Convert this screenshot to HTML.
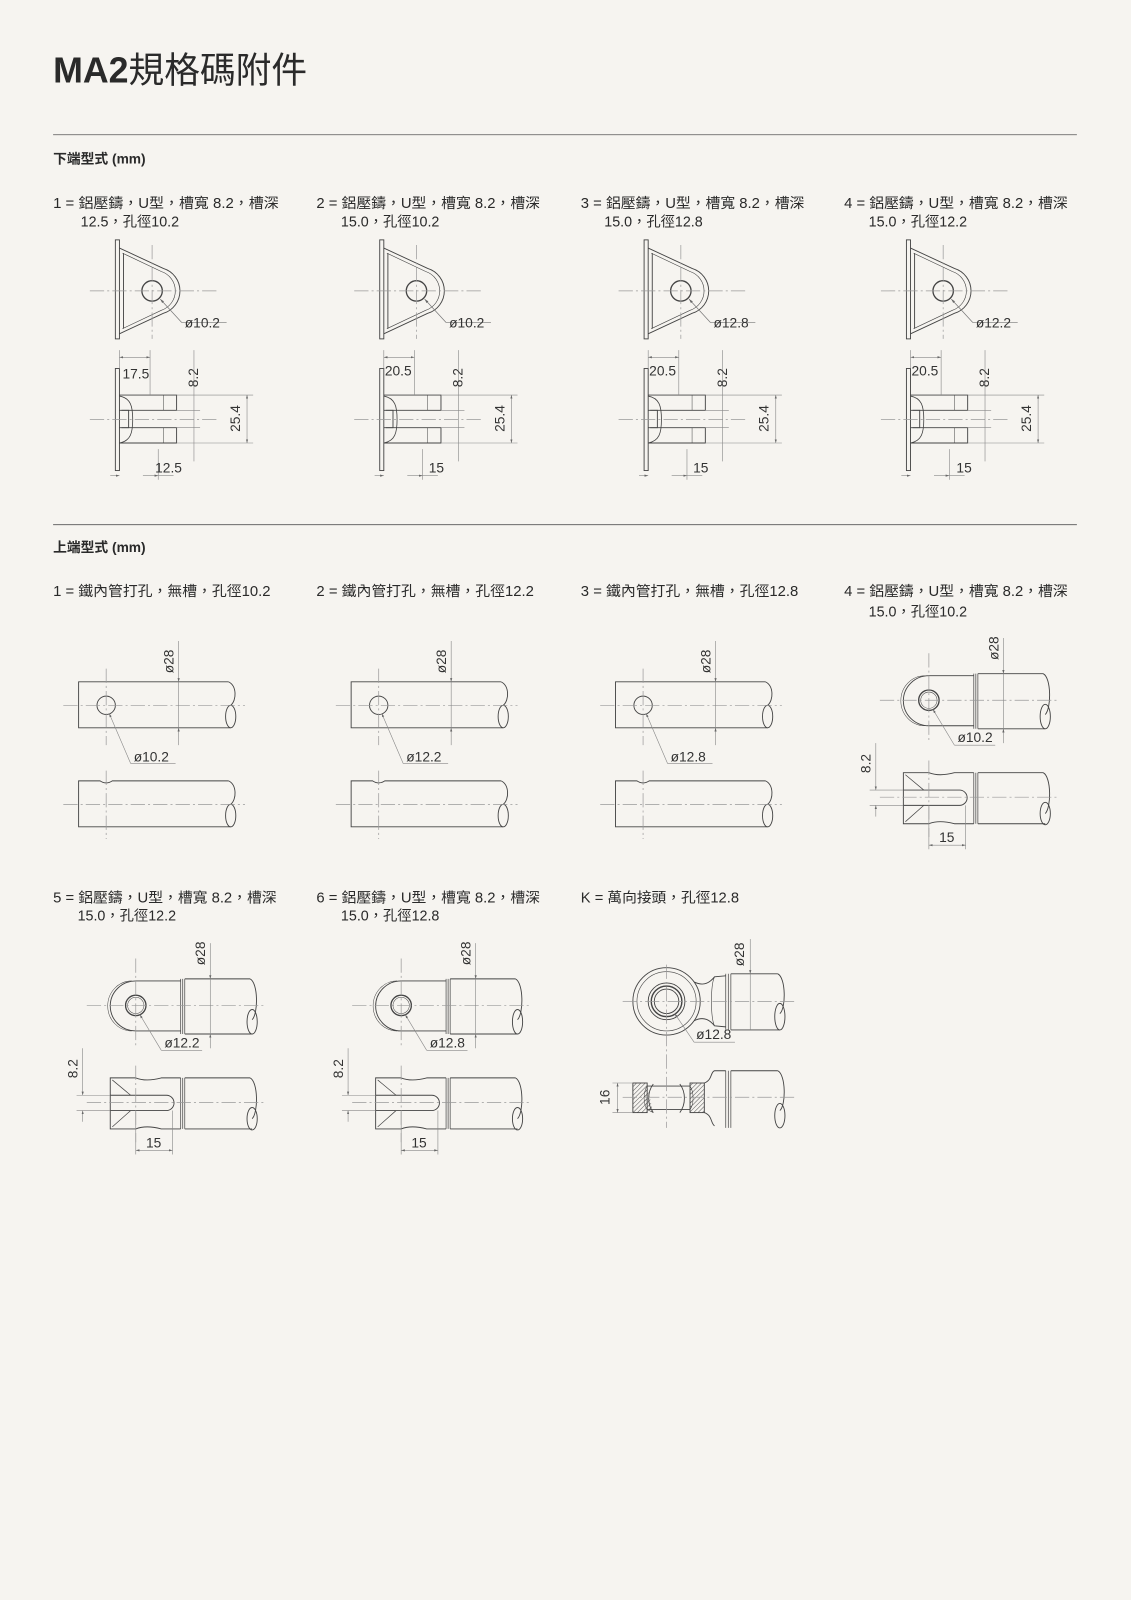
<!DOCTYPE html>
<html><head><meta charset="utf-8"><style>
html,body{margin:0;padding:0;background:#f6f4f0;}
svg{display:block}
text{font-family:"Liberation Sans","Noto Sans CJK TC",sans-serif;fill:#2a2a2a}
.d{font-size:13.5px;fill:#333}
.o{font-size:14px}
</style></head><body>
<svg width="1131" height="1600" viewBox="0 0 1108 1567.5" xmlns="http://www.w3.org/2000/svg">
<defs>
<marker id="a" viewBox="0 0 10 10" refX="10" refY="5" markerWidth="6" markerHeight="6" orient="auto-start-reverse"><path d="M0,2 L10,5 L0,8z" fill="#666"/></marker>
<pattern id="h" width="3" height="3" patternUnits="userSpaceOnUse" patternTransform="rotate(45)"><line x1="0" y1="0" x2="0" y2="3" stroke="#555" stroke-width="1"/></pattern>
<g id="lowTop" fill="none" stroke="#444" stroke-width="0.9">
 <rect x="113" y="235" width="4" height="97" fill="#f6f4f0"/>
 <path d="M117,243 L160,263 A23,23 0 0 1 160,307 L117,327"/>
 <path d="M120,248 L158,266 A20,20 0 0 1 158,304 L120,322" stroke-width="0.6"/>
 <line x1="121" y1="248" x2="121" y2="322"/>
 <circle cx="149" cy="285" r="10" stroke-width="1.3"/>
 <g stroke="#999" stroke-width="0.7" stroke-dasharray="14 3 2 3"><line x1="88" y1="285" x2="212" y2="285"/><line x1="149" y1="240" x2="149" y2="332"/></g>
 <path d="M178,316 L157,293" stroke="#777" stroke-width="0.7" marker-end="url(#a)"/><path d="M178,316 L222,316" stroke="#777" stroke-width="0.7"/>
</g>
<g id="lowSide" fill="none" stroke="#444" stroke-width="0.9">
 <rect x="113" y="361" width="4" height="100" fill="#f6f4f0"/>
 <path d="M117,387 L173,387 L173,402 L117,402 M117,419 L173,419 L173,434 L117,434"/>
 <line x1="160" y1="387" x2="160" y2="402" stroke-width="0.5"/><line x1="160" y1="419" x2="160" y2="434" stroke-width="0.5"/>
 <path d="M117,388 C128,390 130,398 130,411 C130,424 128,432 117,434" stroke-width="0.8"/>
 <path d="M119,402 L126,402 L126,419 L119,419"/>
 <g stroke="#999" stroke-width="0.7" stroke-dasharray="14 3 2 3"><line x1="88" y1="411" x2="212" y2="411"/></g>
 <g stroke="#888" stroke-width="0.6">
  <line x1="117" y1="343" x2="117" y2="361"/><line x1="147" y1="343" x2="147" y2="387"/>
  <line x1="117" y1="350" x2="147" y2="350" marker-start="url(#a)" marker-end="url(#a)"/>
  <line x1="190" y1="343" x2="190" y2="452"/><line x1="173" y1="402" x2="196" y2="402"/><line x1="173" y1="419" x2="196" y2="419"/>
  <line x1="173" y1="387" x2="248" y2="387"/><line x1="173" y1="434" x2="248" y2="434"/>
  <line x1="242" y1="387" x2="242" y2="434" marker-start="url(#a)" marker-end="url(#a)"/>
  <line x1="155" y1="440" x2="155" y2="470"/>
  <line x1="108" y1="466" x2="117" y2="466" marker-end="url(#a)"/><line x1="155" y1="466" x2="170" y2="466"/><line x1="140" y1="466" x2="155" y2="466" marker-end="url(#a)"/>
 </g>
</g>
<g id="rod" fill="none" stroke="#444" stroke-width="0.9">
 <path d="M224,668 L77,668 L77,713 L226,713"/>
 <path d="M224,668 C232,672 232,686 226,691"/><ellipse cx="226" cy="702" rx="5" ry="11"/>
 <circle cx="104" cy="691" r="9"/>
 <path d="M224,765 L110,765 Q104,769 98,765 L77,765 L77,810 L226,810"/>
 <path d="M224,765 C232,769 232,783 226,788"/><ellipse cx="226" cy="799" rx="5" ry="11"/>
 <g stroke="#999" stroke-width="0.7" stroke-dasharray="14 3 2 3"><line x1="62" y1="691" x2="240" y2="691"/><line x1="104" y1="655" x2="104" y2="730"/><line x1="62" y1="788" x2="240" y2="788"/><line x1="104" y1="755" x2="104" y2="822"/></g>
 <g stroke="#888" stroke-width="0.6"><line x1="175" y1="628" x2="175" y2="668" marker-end="url(#a)"/><line x1="175" y1="668" x2="175" y2="713"/><line x1="175" y1="730" x2="175" y2="713" marker-end="url(#a)"/>
 <path d="M128,748 L107,699" marker-end="url(#a)"/><line x1="128" y1="748" x2="172" y2="748"/></g>
</g>
<g id="clevis" fill="none" stroke="#444" stroke-width="0.9">
 <path d="M954,662 L910,662 A25,24.5 0 0 0 910,711 L954,711"/>
 <path d="M906,662 A23,24 0 0 0 906,711" stroke-width="0.5"/>
 <circle cx="910" cy="686" r="10" stroke-width="1.3"/><circle cx="910" cy="686" r="8" stroke-width="0.5"/>
 <path d="M954,660 L954,714 M958,660 L958,714 M956,660 L956,714" stroke-width="0.7"/>
 <path d="M958,660 L1022,660 M958,714 L1024,714 M1022,660 C1030,664 1030,694 1024,700"/><ellipse cx="1024" cy="702" rx="5" ry="12"/>
 <path d="M954,757 L935,757 Q920,761 910,757 L885,757 L885,807 L910,807 Q920,803 935,807 L954,807"/>
 <path d="M885,774 L940,774 A7.5,7.5 0 0 1 940,789 L885,789"/>
 <path d="M887,759 L905,774 M887,805 L905,789" stroke-width="0.7"/>
 <path d="M954,757 L954,807 M958,757 L958,807 M956,757 L956,807" stroke-width="0.7"/>
 <path d="M958,757 L1022,757 M958,807 L1024,807 M1022,757 C1030,761 1030,791 1024,797"/><ellipse cx="1024" cy="797" rx="5" ry="11"/>
 <g stroke="#999" stroke-width="0.7" stroke-dasharray="14 3 2 3"><line x1="862" y1="686" x2="1035" y2="686"/><line x1="910" y1="640" x2="910" y2="725"/><line x1="862" y1="781" x2="1035" y2="781"/><line x1="910" y1="745" x2="910" y2="820"/></g>
 <g stroke="#888" stroke-width="0.6">
  <line x1="983" y1="625" x2="983" y2="660" marker-end="url(#a)"/><line x1="983" y1="660" x2="983" y2="714"/><line x1="983" y1="728" x2="983" y2="714" marker-end="url(#a)"/>
  <path d="M935,730 L914,695" marker-end="url(#a)"/><line x1="935" y1="730" x2="975" y2="730"/>
  <line x1="852" y1="774" x2="885" y2="774"/><line x1="852" y1="789" x2="885" y2="789"/>
  <line x1="858" y1="728" x2="858" y2="774" marker-end="url(#a)"/><line x1="858" y1="800" x2="858" y2="789" marker-end="url(#a)"/>
  <line x1="910" y1="790" x2="910" y2="832"/><line x1="946" y1="789" x2="946" y2="832"/>
  <line x1="910" y1="828" x2="946" y2="828" marker-start="url(#a)" marker-end="url(#a)"/>
 </g>
</g>
</defs>

<text x="52" y="81" style="font-size:35px;font-weight:bold">MA2<tspan style="font-weight:normal">規格碼附件</tspan></text>
<line x1="52" y1="132" x2="1055" y2="132" stroke="#555" stroke-width="0.8"/>
<text x="52" y="160" style="font-size:13.5px;font-weight:bold">下端型式 (mm)</text>

<text class="o" x="52" y="204" textLength="221" lengthAdjust="spacingAndGlyphs">1 =  鋁壓鑄，U型，槽寬 8.2，槽深</text>
<text class="o" x="79" y="222">12.5，孔徑10.2</text>
<text class="o" x="310" y="204" textLength="219" lengthAdjust="spacingAndGlyphs">2 = 鋁壓鑄，U型，槽寬 8.2，槽深</text>
<text class="o" x="334" y="222">15.0，孔徑10.2</text>
<text class="o" x="569" y="204" textLength="219" lengthAdjust="spacingAndGlyphs">3 = 鋁壓鑄，U型，槽寬 8.2，槽深</text>
<text class="o" x="592" y="222">15.0，孔徑12.8</text>
<text class="o" x="827" y="204" textLength="219" lengthAdjust="spacingAndGlyphs">4 = 鋁壓鑄，U型，槽寬 8.2，槽深</text>
<text class="o" x="851" y="222">15.0，孔徑12.2</text>

<use href="#lowTop"/><use href="#lowSide"/>
<use href="#lowTop" transform="translate(259,0)"/><use href="#lowSide" transform="translate(259,0)"/>
<use href="#lowTop" transform="translate(518,0)"/><use href="#lowSide" transform="translate(518,0)"/>
<use href="#lowTop" transform="translate(775,0)"/><use href="#lowSide" transform="translate(775,0)"/>
<g class="d">
<text class="d" x="181" y="321">ø10.2</text><text class="d" x="440" y="321">ø10.2</text><text class="d" x="699" y="321">ø12.8</text><text class="d" x="956" y="321">ø12.2</text>
<text class="d" x="120" y="371">17.5</text><text class="d" x="377" y="368">20.5</text><text class="d" x="636" y="368">20.5</text><text class="d" x="893" y="368">20.5</text>
<text class="d" x="152" y="463">12.5</text><text class="d" x="420" y="463">15</text><text class="d" x="679" y="463">15</text><text class="d" x="937" y="463">15</text>
<text class="d" text-anchor="middle" transform="translate(194,370) rotate(-90)">8.2</text>
<text class="d" text-anchor="middle" transform="translate(453,370) rotate(-90)">8.2</text>
<text class="d" text-anchor="middle" transform="translate(712,370) rotate(-90)">8.2</text>
<text class="d" text-anchor="middle" transform="translate(969,370) rotate(-90)">8.2</text>
<text class="d" text-anchor="middle" transform="translate(235,410) rotate(-90)">25.4</text>
<text class="d" text-anchor="middle" transform="translate(494,410) rotate(-90)">25.4</text>
<text class="d" text-anchor="middle" transform="translate(753,410) rotate(-90)">25.4</text>
<text class="d" text-anchor="middle" transform="translate(1010,410) rotate(-90)">25.4</text>
</g>

<line x1="52" y1="514" x2="1055" y2="514" stroke="#555" stroke-width="0.8"/>
<text x="52" y="541" style="font-size:13.5px;font-weight:bold">上端型式 (mm)</text>
<text class="o" x="52" y="584" textLength="213" lengthAdjust="spacingAndGlyphs">1 = 鐵內管打孔，無槽，孔徑10.2</text>
<text class="o" x="310" y="584" textLength="213" lengthAdjust="spacingAndGlyphs">2 = 鐵內管打孔，無槽，孔徑12.2</text>
<text class="o" x="569" y="584" textLength="213" lengthAdjust="spacingAndGlyphs">3 = 鐵內管打孔，無槽，孔徑12.8</text>
<text class="o" x="827" y="584" textLength="219" lengthAdjust="spacingAndGlyphs">4 = 鋁壓鑄，U型，槽寬 8.2，槽深</text>
<text class="o" x="851" y="604">15.0，孔徑10.2</text>

<use href="#rod"/><use href="#rod" transform="translate(267,0)"/><use href="#rod" transform="translate(526,0)"/>
<use href="#clevis"/>
<text class="d" text-anchor="middle" transform="translate(170,648) rotate(-90)">ø28</text>
<text class="d" text-anchor="middle" transform="translate(437,648) rotate(-90)">ø28</text>
<text class="d" text-anchor="middle" transform="translate(696,648) rotate(-90)">ø28</text>
<text class="d" text-anchor="middle" transform="translate(978,635) rotate(-90)">ø28</text>
<text class="d" x="131" y="746">ø10.2</text><text class="d" x="398" y="746">ø12.2</text><text class="d" x="657" y="746">ø12.8</text>
<text class="d" x="938" y="727">ø10.2</text>
<text class="d" text-anchor="middle" transform="translate(853,748) rotate(-90)">8.2</text>
<text class="d" x="920" y="825">15</text>

<text class="o" x="52" y="884" textLength="219" lengthAdjust="spacingAndGlyphs">5 = 鋁壓鑄，U型，槽寬 8.2，槽深</text>
<text class="o" x="76" y="902">15.0，孔徑12.2</text>
<text class="o" x="310" y="884" textLength="219" lengthAdjust="spacingAndGlyphs">6 = 鋁壓鑄，U型，槽寬 8.2，槽深</text>
<text class="o" x="334" y="902">15.0，孔徑12.8</text>
<text class="o" x="569" y="884" textLength="155" lengthAdjust="spacingAndGlyphs">K = 萬向接頭，孔徑12.8</text>

<use href="#clevis" transform="translate(-777,299)"/>
<use href="#clevis" transform="translate(-517,299)"/>
<text class="d" text-anchor="middle" transform="translate(201,934) rotate(-90)">ø28</text>
<text class="d" text-anchor="middle" transform="translate(461,934) rotate(-90)">ø28</text>
<text class="d" x="161" y="1026">ø12.2</text><text class="d" x="421" y="1026">ø12.8</text>
<text class="d" text-anchor="middle" transform="translate(76,1047) rotate(-90)">8.2</text>
<text class="d" text-anchor="middle" transform="translate(336,1047) rotate(-90)">8.2</text>
<text class="d" x="143" y="1124">15</text><text class="d" x="403" y="1124">15</text>

<!-- K eye -->
<g fill="none" stroke="#444" stroke-width="0.9">
 <circle cx="653" cy="981" r="33"/><circle cx="653" cy="981" r="29" stroke-width="0.6"/>
 <circle cx="653" cy="981" r="18"/><circle cx="653" cy="981" r="15" stroke-width="1.4"/><circle cx="653" cy="981" r="12"/>
 <path d="M680,962 C690,967 696,962 700,957 L711,956 M680,1000 C690,995 696,1000 700,1005 L711,1006"/>
 <path d="M700,957 C696,965 696,997 700,1005" stroke-width="0.6"/>
 <path d="M711,954 L711,1009 M716,954 L716,1009 M713.5,954 L713.5,1009" stroke-width="0.7"/>
 <path d="M716,954 L762,954 M716,1009 L764,1009 M762,954 C770,958 770,988 764,993"/><ellipse cx="764" cy="996" rx="5" ry="13"/>
 <rect x="620" y="1061" width="14" height="29" fill="url(#h)"/><rect x="676" y="1061" width="14" height="29" fill="url(#h)"/>
 <path d="M634,1064 L676,1064 M634,1087 L676,1087"/>
 <path d="M640,1062 C634,1070 634,1082 640,1090 M666,1062 C672,1070 672,1082 666,1090"/>
 <path d="M634,1064 C630,1070 630,1082 634,1087 L640,1090 M676,1064 C680,1070 680,1082 676,1087" fill="url(#h)" stroke-width="0.5"/>
 <path d="M690,1061 C698,1058 696,1050 700,1049 L711,1049 M690,1090 C698,1093 696,1100 700,1103"/>
 <path d="M711,1049 L711,1105 M716,1049 L716,1105 M713.5,1049 L713.5,1105" stroke-width="0.7"/>
 <path d="M716,1049 L762,1049 M762,1049 C770,1053 770,1083 764,1088"/><ellipse cx="764" cy="1093" rx="5" ry="12"/>
 <g stroke="#999" stroke-width="0.7" stroke-dasharray="14 3 2 3"><line x1="610" y1="981" x2="780" y2="981"/><line x1="653" y1="945" x2="653" y2="1105"/><line x1="610" y1="1075" x2="780" y2="1075"/></g>
 <g stroke="#888" stroke-width="0.6">
  <line x1="735" y1="920" x2="735" y2="954" marker-end="url(#a)"/><line x1="735" y1="954" x2="735" y2="1009"/>
  <path d="M680,1021 L661,993" marker-end="url(#a)"/><line x1="680" y1="1021" x2="720" y2="1021"/>
  <line x1="600" y1="1061" x2="620" y2="1061"/><line x1="600" y1="1090" x2="620" y2="1090"/>
  <line x1="605" y1="1061" x2="605" y2="1090" marker-start="url(#a)" marker-end="url(#a)"/>
 </g>
</g>
<text class="d" text-anchor="middle" transform="translate(729,935) rotate(-90)">ø28</text>
<text class="d" x="682" y="1018">ø12.8</text>
<text class="d" text-anchor="middle" transform="translate(597,1075) rotate(-90)">16</text>
</svg>
</body></html>
